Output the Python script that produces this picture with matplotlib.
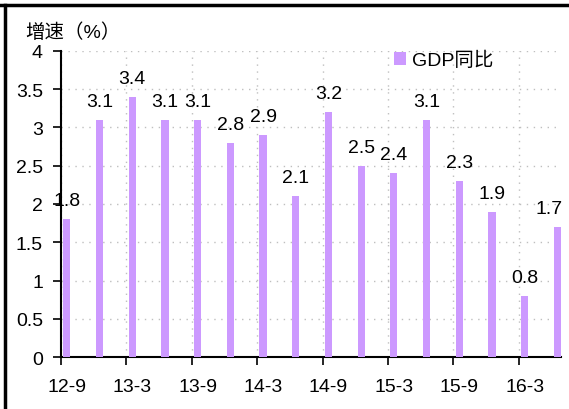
import numpy as np
import matplotlib
matplotlib.use("Agg")
import matplotlib.pyplot as plt

plt.rcParams['font.family'] = ['Liberation Sans', 'Noto Sans CJK SC', 'DejaVu Sans']

# Квартали та приріст ВВП (кв/кв, %)
quarters = ['12-9', '12-12', '13-3', '13-6', '13-9', '13-12', '14-3', '14-6',
            '14-9', '14-12', '15-3', '15-6', '15-9', '15-12', '16-3', '16-6']
gdp_qoq = [1.8, 3.1, 3.4, 3.1, 3.1, 2.8, 2.9, 2.1,
           3.2, 2.5, 2.4, 3.1, 2.3, 1.9, 0.8, 1.7]
yticks = [0, 0.5, 1, 1.5, 2, 2.5, 3, 3.5, 4]
series_name = 'GDP同比'
ylabel = '增速（%）'

bar_color = '#CC99FF'
grid_color = '#BFBFBF'
fs = 14

W, H = 569, 410
fig = plt.figure(figsize=(W / 100, H / 100), dpi=100)
ax = fig.add_axes([61 / W, 1 - 358.3 / H, 500 / W, 306.6 / H])

idx = np.arange(len(quarters))
shift = 0.18  # бари зміщені праворуч від поділки
ax.bar(idx + shift, gdp_qoq, width=0.22, color=bar_color, label=series_name, zorder=3)

for i, (x, v) in enumerate(zip(idx + shift, gdp_qoq)):
    dx = -6 if i == len(gdp_qoq) - 1 else 0  # останній підпис трохи лівіше, щоб не обрізався
    ax.annotate(f'{v:.1f}', (x, v), xytext=(dx, 10), textcoords='offset points',
                ha='center', va='baseline', fontsize=fs, zorder=4)

ax.set_xlim(0, 15.29)
ax.set_ylim(0, 4)

# основні поділки — межі, підписи — під барами
ax.set_xticks(idx[::2])
ax.set_xticklabels([])
ax.set_xticks(idx[::2] + shift, minor=True)
ax.set_xticklabels(quarters[::2], minor=True, fontsize=fs)
ax.tick_params(axis='x', which='major', length=6, width=1.2, direction='out')
ax.tick_params(axis='x', which='minor', length=0, pad=15)

ax.set_yticks(yticks)
ax.set_yticklabels([f'{t:g}' for t in yticks], fontsize=fs)
ax.tick_params(axis='y', length=6, width=1.2, direction='out', pad=7)

ax.grid(True, which='major', color=grid_color, linestyle=(0, (1, 4)), linewidth=1, zorder=0)

for s in ['top', 'right']:
    ax.spines[s].set_visible(False)
for s in ['left', 'bottom']:
    ax.spines[s].set_linewidth(1.5)

fig.text(25 / W, 1 - 33 / H, ylabel, fontsize=fs, va='center', ha='left')

ax.legend(loc='upper left', bbox_to_anchor=(394 / W, 1 - 52 / H), bbox_transform=fig.transFigure,
          frameon=False, fontsize=fs, handlelength=0.6, handleheight=0.6,
          handletextpad=0.35, borderpad=0, borderaxespad=0)

# рамка (зверху та зліва)
fig.add_artist(plt.Line2D([0, 1], [1 - 5.5 / H, 1 - 5.5 / H], transform=fig.transFigure, color='black', lw=2.5))
fig.add_artist(plt.Line2D([5 / W, 5 / W], [0, 1 - 5.5 / H], transform=fig.transFigure, color='black', lw=2.5))

fig.savefig('out.png', dpi=100)
